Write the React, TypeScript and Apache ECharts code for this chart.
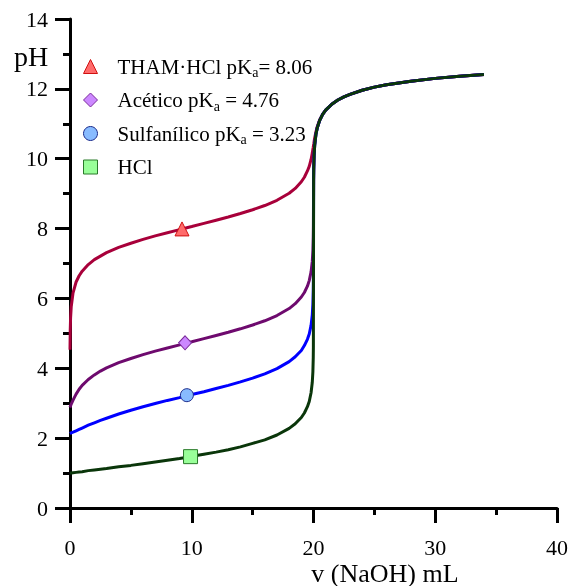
import React, { useEffect, useRef } from "react";
import * as echarts from "echarts";

// Volume of NaOH added (mL)
const volumes = [0, 0.02, 0.05, 0.1, 0.25, 0.5, 0.75, 1, 1.5, 2, 2.5, 3, 4, 5, 6, 7, 8, 9, 10, 11, 12, 13, 14, 15, 16, 17, 18, 18.5, 19, 19.25, 19.5, 19.65, 19.8, 19.9, 19.95, 19.98, 19.99, 20, 20.01, 20.02, 20.05, 20.1, 20.2, 20.3, 20.5, 20.75, 21, 21.5, 22, 22.5, 23, 24, 25, 26, 27, 28, 30, 32, 34];

// pH values
const phTham = [4.53, 5.09, 5.46, 5.76, 6.16, 6.47, 6.65, 6.78, 6.97, 7.11, 7.21, 7.31, 7.46, 7.58, 7.69, 7.79, 7.88, 7.97, 8.06, 8.15, 8.24, 8.33, 8.43, 8.54, 8.66, 8.81, 9.01, 9.15, 9.34, 9.47, 9.65, 9.78, 9.98, 10.16, 10.27, 10.33, 10.36, 10.38, 10.4, 10.42, 10.49, 10.6, 10.77, 10.91, 11.11, 11.27, 11.39, 11.56, 11.68, 11.77, 11.84, 11.96, 12.05, 12.12, 12.17, 12.22, 12.3, 12.36, 12.41];
const phAcetico = [2.88, 2.9, 2.93, 2.97, 3.09, 3.26, 3.4, 3.51, 3.68, 3.81, 3.92, 4.01, 4.16, 4.28, 4.39, 4.49, 4.58, 4.67, 4.76, 4.85, 4.94, 5.03, 5.13, 5.24, 5.36, 5.51, 5.71, 5.85, 6.04, 6.17, 6.35, 6.51, 6.76, 7.06, 7.36, 7.76, 8.06, 8.73, 9.42, 9.7, 10.1, 10.4, 10.7, 10.87, 11.09, 11.27, 11.39, 11.56, 11.68, 11.77, 11.84, 11.96, 12.05, 12.12, 12.17, 12.22, 12.3, 12.36, 12.41];
const phSulfanilico = [2.13, 2.14, 2.14, 2.15, 2.17, 2.21, 2.25, 2.29, 2.37, 2.44, 2.51, 2.57, 2.69, 2.8, 2.9, 2.99, 3.08, 3.16, 3.25, 3.33, 3.42, 3.51, 3.61, 3.72, 3.84, 3.99, 4.19, 4.33, 4.51, 4.65, 4.83, 4.98, 5.23, 5.53, 5.84, 6.23, 6.53, 7.96, 9.41, 9.7, 10.1, 10.4, 10.7, 10.87, 11.09, 11.27, 11.39, 11.56, 11.68, 11.77, 11.84, 11.96, 12.05, 12.12, 12.17, 12.22, 12.3, 12.36, 12.41];
const phHcl = [1.0, 1.0, 1.0, 1.0, 1.01, 1.02, 1.03, 1.04, 1.07, 1.09, 1.11, 1.13, 1.18, 1.22, 1.27, 1.32, 1.37, 1.42, 1.48, 1.54, 1.6, 1.67, 1.75, 1.85, 1.95, 2.09, 2.28, 2.41, 2.59, 2.72, 2.9, 3.05, 3.3, 3.6, 3.9, 4.3, 4.6, 7.0, 9.4, 9.7, 10.1, 10.4, 10.7, 10.87, 11.09, 11.27, 11.39, 11.56, 11.68, 11.77, 11.84, 11.96, 12.05, 12.12, 12.17, 12.22, 12.3, 12.36, 12.41];

// Marker point on each curve [mL, pH]
const markerTham = [9.2, 7.99];
const markerAcetico = [9.45, 4.73];
const markerSulfanilico = [9.6, 3.23];
const markerHcl = [9.9, 1.47];

const seriesNames = ["THAM·HCl", "Acético", "Sulfanílico", "HCl"];
const pkaLabels = ["= 8.06", " = 4.76", " = 3.23", ""];

const xTicks = { min: 0, max: 40, interval: 10 };
const yTicks = { min: 0, max: 14, interval: 2 };

const FONT = '"Liberation Serif", "Times New Roman", serif';

function buildData(ys: number[], marker: number[], symbol: string, symbolSize: any) {
  const pts: any[] = volumes.map((v, i) => [v, ys[i]]);
  const idx = pts.findIndex((p) => p[0] > marker[0]);
  pts.splice(idx, 0, { value: [marker[0], marker[1]], symbol, symbolSize });
  return pts;
}

export default function App() {
  const ref = useRef<HTMLDivElement>(null);
  useEffect(() => {
    if (!ref.current) return;
    const chart = echarts.init(ref.current, undefined, { renderer: "svg" });
    const styles = [
      { line: "#a8003a", fill: "#ff6b6b", border: "#d01010", symbol: "triangle", size: [14, 14], ys: phTham, marker: markerTham },
      { line: "#6e0a6e", fill: "#cc88ff", border: "#7a2a9a", symbol: "diamond", size: [13, 14], ys: phAcetico, marker: markerAcetico },
      { line: "#0000ff", fill: "#88bbff", border: "#1a2a8a", symbol: "circle", size: 13, ys: phSulfanilico, marker: markerSulfanilico },
      { line: "#0a360a", fill: "#99ff99", border: "#2a7a2a", symbol: "rect", size: 14, ys: phHcl, marker: markerHcl },
    ];
    const axisCommon = {
      axisLine: { show: true, onZero: false, lineStyle: { color: "#000", width: 3 } },
      axisTick: { show: true, length: 15, inside: false, lineStyle: { color: "#000", width: 3 } },
      minorTick: { show: true, splitNumber: 2, length: 7, lineStyle: { color: "#000", width: 3 } },
      splitLine: { show: false },
      minorSplitLine: { show: false },
    };
    chart.setOption({
      animation: false,
      grid: { left: 70, right: 13, top: 19, bottom: 78 },
      xAxis: {
        type: "value",
        ...xTicks,
        ...axisCommon,
        axisLabel: { fontSize: 22, fontFamily: FONT, color: "#000", margin: 28 },
      },
      yAxis: {
        type: "value",
        ...yTicks,
        ...axisCommon,
        axisLabel: { fontSize: 22, fontFamily: FONT, color: "#000", margin: 22 },
      },
      legend: {
        orient: "vertical",
        left: 78,
        top: 51,
        itemWidth: 14,
        itemHeight: 14,
        itemGap: 10,
        selectedMode: false,
        data: seriesNames.map((n, i) => ({
          name: n,
          icon: styles[i].symbol,
          itemStyle: { color: styles[i].fill, borderColor: styles[i].border, borderWidth: 1 },
        })),
        formatter: (name: string) => {
          const i = seriesNames.indexOf(name);
          if (i === 3) return "{sp| }{t|" + name + "}";
          return "{sp| }{t|" + name + " pK}{sub|a}{t|" + pkaLabels[i] + "}";
        },
        textStyle: {
          rich: {
            sp: { width: 15, fontSize: 10 },
            t: { fontSize: 21, fontFamily: FONT, color: "#000", lineHeight: 26 },
            sub: { fontSize: 14, fontFamily: FONT, color: "#000", lineHeight: 16, verticalAlign: "bottom" },
          },
        },
      },
      series: styles.map((s, i) => ({
        name: seriesNames[i],
        type: "line",
        symbol: "none",
        showSymbol: true,
        smooth: false,
        clip: false,
        lineStyle: { color: s.line, width: 3 },
        itemStyle: { color: s.fill, borderColor: s.border, borderWidth: 1 },
        emphasis: { disabled: true },
        data: buildData(s.ys, s.marker, s.symbol, s.size),
        z: 2 + i,
      })),
      graphic: [
        {
          type: "text",
          style: { x: 31, y: 56, text: "pH", font: "28px " + FONT, fill: "#000", align: "center", verticalAlign: "middle" },
        },
        {
          type: "text",
          style: { x: 385, y: 573, text: "v (NaOH) mL", font: "26px " + FONT, fill: "#000", align: "center", verticalAlign: "middle" },
        },
      ],
    });
    return () => chart.dispose();
  }, []);
  return <div ref={ref} style={{ position: "fixed", left: 0, top: 0, width: 571, height: 586 }} />;
}
